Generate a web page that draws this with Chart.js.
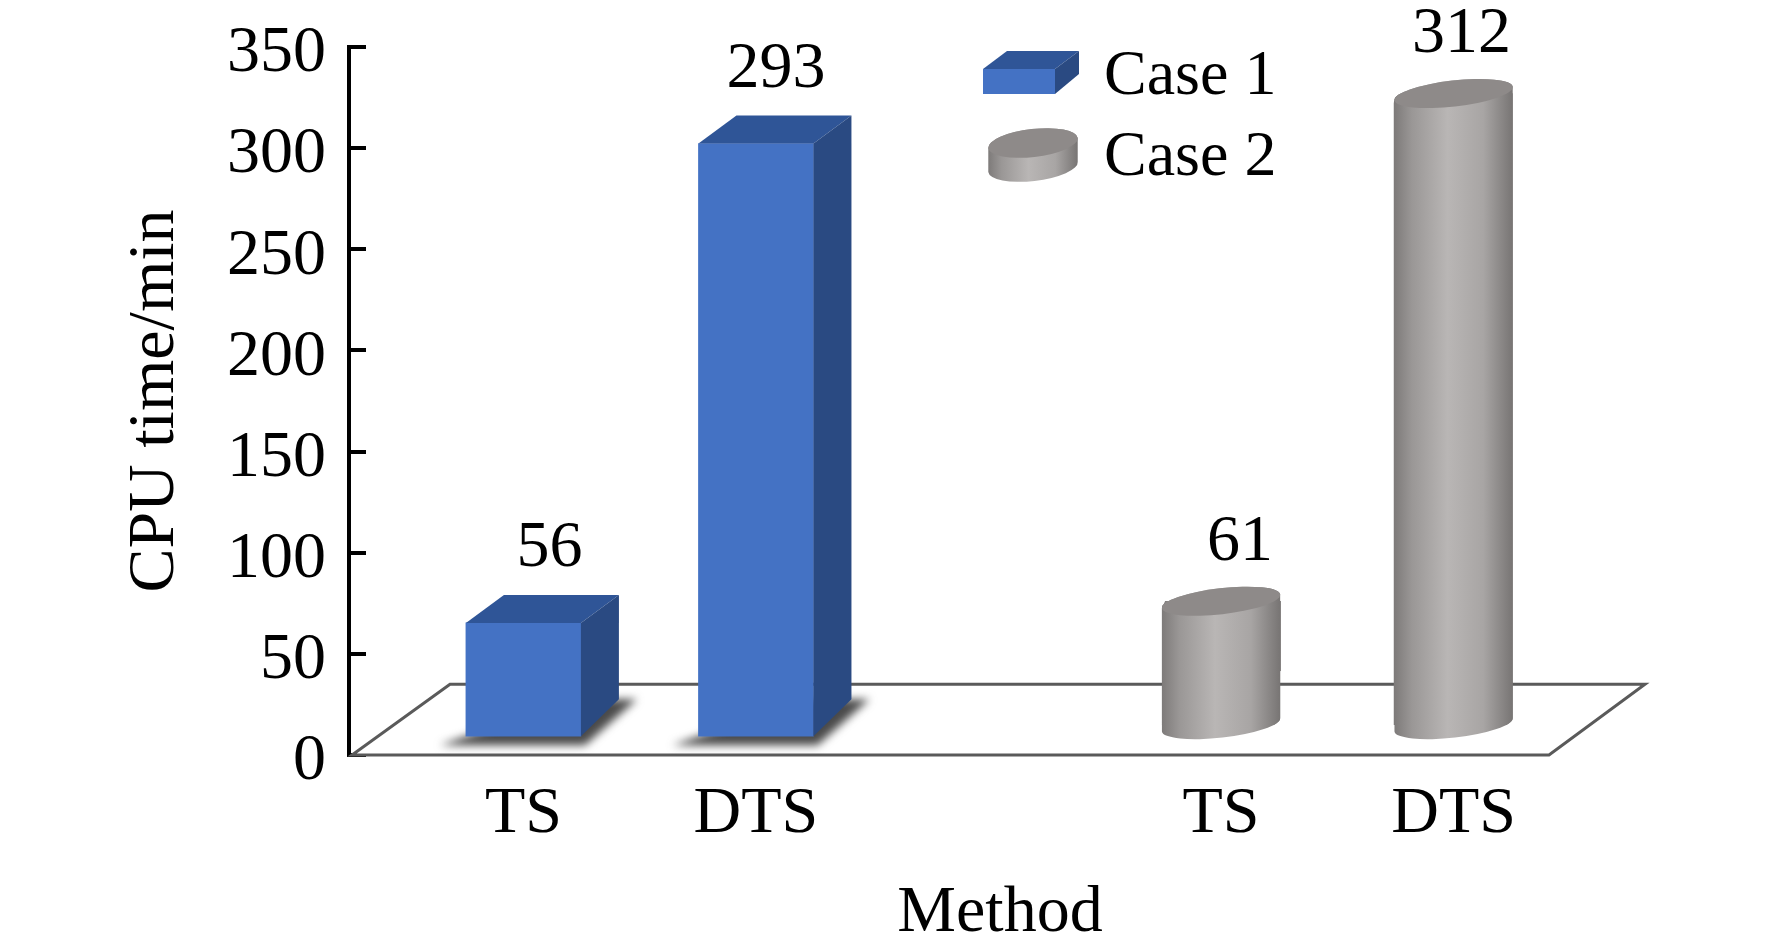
<!DOCTYPE html>
<html>
<head>
<meta charset="utf-8">
<title>CPU time</title>
<script src="https://cdn.jsdelivr.net/npm/chart.js@4"></script>
<style>
  html, body { margin: 0; padding: 0; background: #fff; }
  canvas { display: block; }
</style>
</head>
<body>
<canvas id="cpuChart" width="1772" height="952"></canvas>
<script>
// blank slots only space the two groups out along the axis
var categories = ['', 'TS', '', 'DTS', '', '', '', 'TS', '', 'DTS', ''];
var case1Values = [null, 56, null, 293, null, null, null, null, null, null, null];
var case2Values = [null, null, null, null, null, null, null, 61, null, 312, null];
var seriesNames = ['Case 1', 'Case 2'];
var yMax = 350;
var yStep = 50;

var FONT = '"Liberation Serif", "Times New Roman", serif';
var FONT_SIZE = 66;
var BLUE = '#4472c4', BLUE_TOP = '#2f5597', BLUE_SIDE = '#2a4a82', CYL_TOP = '#8e8a89';

function cylGradient(ctx, cx, rx) {
    var g = ctx.createLinearGradient(cx - rx, 0, cx + rx, 0);
    g.addColorStop(0, '#7d7a79');
    g.addColorStop(0.15, '#9a9796');
    g.addColorStop(0.45, '#b9b6b5');
    g.addColorStop(0.75, '#a8a5a4');
    g.addColorStop(1, '#777473');
    return g;
}

// outline of a tilted cylinder between two centre heights
function cylPath(ctx, cx, yTop, yBottom, rx, ry) {
    var tilt = -6.5 * Math.PI / 180;
    ctx.beginPath();
    ctx.ellipse(cx, yTop, rx, ry, tilt, Math.PI, 2 * Math.PI);
    ctx.ellipse(cx, yBottom, rx, ry, tilt, 0, Math.PI);
    ctx.closePath();
}

function cylTop(ctx, cx, y, rx, ry) {
    ctx.fillStyle = CYL_TOP;
    ctx.beginPath();
    ctx.ellipse(cx, y, rx, ry, -6.5 * Math.PI / 180, 0, 2 * Math.PI);
    ctx.fill();
}

function boxFaces(ctx, left, right, top, bottom, dx, dy, dyBottom) {
    ctx.fillStyle = BLUE_TOP;
    ctx.beginPath();
    ctx.moveTo(left, top);
    ctx.lineTo(left + dx, top - dy);
    ctx.lineTo(right + dx, top - dy);
    ctx.lineTo(right, top);
    ctx.closePath();
    ctx.fill();
    ctx.fillStyle = BLUE_SIDE;
    ctx.beginPath();
    ctx.moveTo(right, top);
    ctx.lineTo(right + dx, top - dy);
    ctx.lineTo(right + dx, bottom - dyBottom);
    ctx.lineTo(right, bottom);
    ctx.closePath();
    ctx.fill();
}

// bars that hold a value, the blank slots are skipped
function points(chart, i) {
    var values = chart.data.datasets[i].data;
    return chart.getDatasetMeta(i).data.filter(function (el, idx) {
        return values[idx] !== null;
    });
}

function rawValues(chart, i) {
    return chart.data.datasets[i].data.filter(function (v) { return v !== null; });
}

var scene = {
    id: 'scene',
    beforeDatasetsDraw: function (chart) {
        var ctx = chart.ctx, y = chart.scales.y;
        var front = y.getPixelForValue(0), back = y.getPixelForValue(35);
        var left = chart.chartArea.left;

        // floor
        ctx.save();
        ctx.fillStyle = '#fff';
        ctx.strokeStyle = '#5a5a5a';
        ctx.lineWidth = 3;
        ctx.beginPath();
        ctx.moveTo(left + 3, front);
        ctx.lineTo(left + 1200, front);
        ctx.lineTo(left + 1296, back);
        ctx.lineTo(left + 101, back);
        ctx.closePath();
        ctx.fill();
        ctx.stroke();

        // soft shadows under the boxes
        ctx.fillStyle = '#4a4a4a';
        ctx.filter = 'blur(4px)';
        points(chart, 0).forEach(function (el) {
            var l = el.x - el.width / 2, r = el.x + el.width / 2, b = el.base;
            ctx.beginPath();
            ctx.moveTo(l - 26, b + 9);
            ctx.lineTo(r + 4, b + 9);
            ctx.lineTo(r + 56, b - 37);
            ctx.lineTo(r, b - 37);
            ctx.lineTo(l, b);
            ctx.closePath();
            ctx.fill();
        });
        ctx.filter = 'none';

        // cylinder bodies, the bars are painted over them
        points(chart, 1).forEach(function (el) {
            var rx = el.width / 2;
            ctx.fillStyle = cylGradient(ctx, el.x, rx);
            cylPath(ctx, el.x, el.y, el.base, rx, 13);
            ctx.fill();
        });
        ctx.restore();
    },
    beforeDatasetDraw: function (chart, args) {
        if (args.index !== 1) return;
        var ctx = chart.ctx;
        ctx.save();
        ctx.beginPath();
        points(chart, 1).forEach(function (el) {
            var tilt = -6.5 * Math.PI / 180, rx = el.width / 2;
            ctx.ellipse(el.x, el.y, rx, 13, tilt, Math.PI, 2 * Math.PI);
            ctx.ellipse(el.x, el.base, rx, 13, tilt, 0, Math.PI);
            ctx.closePath();
        });
        ctx.clip();
    },
    afterDatasetDraw: function (chart, args) {
        if (args.index === 1) chart.ctx.restore();
    },
    afterDatasetsDraw: function (chart) {
        var ctx = chart.ctx;
        ctx.save();
        points(chart, 0).forEach(function (el) {
            boxFaces(ctx, el.x - el.width / 2, el.x + el.width / 2, el.y, el.base, 38, 28, 37);
        });
        points(chart, 1).forEach(function (el) {
            cylTop(ctx, el.x, el.y, el.width / 2, 13);
        });

        // value labels
        ctx.fillStyle = '#000';
        ctx.font = FONT_SIZE + 'px ' + FONT;
        ctx.textAlign = 'center';
        ctx.textBaseline = 'middle';
        var raw0 = rawValues(chart, 0), raw1 = rawValues(chart, 1);
        var shift0 = [26, 20], shift1 = [19, 8];
        points(chart, 0).forEach(function (el, i) {
            ctx.fillText(String(raw0[i]), el.x + shift0[i], el.y - 74);
        });
        points(chart, 1).forEach(function (el, i) {
            ctx.fillText(String(raw1[i]), el.x + shift1[i], el.y - 59);
        });

        // x axis title sits right of the plot centre in the original
        ctx.fillText(chart.options.scales.x.title.text, 1000, 914);

        // legend
        var a = chart.chartArea.left + 634, t = chart.scales.y.getPixelForValue(yMax);
        ctx.fillStyle = BLUE;
        ctx.fillRect(a, t + 22, 72, 25);
        boxFaces(ctx, a, a + 72, t + 22, t + 47, 24, 18, 20);
        ctx.fillStyle = cylGradient(ctx, a + 50, 45);
        cylPath(ctx, a + 50, t + 96, t + 120, 45, 14);
        ctx.fill();
        cylTop(ctx, a + 50, t + 96, 45, 14);
        ctx.fillStyle = '#000';
        ctx.font = '64px ' + FONT;
        ctx.textAlign = 'left';
        ctx.fillText(chart.data.datasets[0].label, 1104, 77);
        ctx.fillText(chart.data.datasets[1].label, 1104, 158);
        ctx.restore();
    }
};

var ctx = document.getElementById('cpuChart').getContext('2d');
var cpuChart = new Chart(ctx, {
    type: 'bar',
    data: {
        labels: categories,
        datasets: [{
            label: seriesNames[0],
            data: case1Values,
            yAxisID: 'yBox',
            backgroundColor: BLUE,
            barThickness: 115,
            grouped: false
        }, {
            label: seriesNames[1],
            data: case2Values,
            yAxisID: 'yCyl',
            backgroundColor: function (c) {
                var xs = c.chart.scales.x;
                if (!xs || !c.chart.chartArea) return '#a8a5a4';
                return cylGradient(c.chart.ctx, xs.getPixelForValue(c.dataIndex), 59.5);
            },
            barThickness: 119,
            grouped: false
        }]
    },
    options: {
        responsive: false,
        animation: false,
        devicePixelRatio: 1,
        layout: { padding: { left: 116, top: 47, right: 144, bottom: 0 } },
        plugins: {
            legend: { display: false },
            title: { display: false },
            tooltip: { enabled: false }
        },
        scales: {
            x: {
                grid: { display: false, drawTicks: false },
                border: { display: false },
                ticks: {
                    color: '#000',
                    font: { family: FONT, size: FONT_SIZE },
                    padding: 20,
                    autoSkip: false,
                    maxRotation: 0
                },
                title: { display: false, text: 'Method' },
                afterFit: function (s) { s.height = 197; }
            },
            y: {
                min: 0,
                max: yMax,
                position: 'left',
                grid: {
                    drawOnChartArea: false,
                    color: '#000',
                    lineWidth: 4,
                    tickLength: -17
                },
                border: { color: '#000', width: 4 },
                ticks: {
                    stepSize: yStep,
                    color: '#000',
                    font: { family: FONT, size: FONT_SIZE },
                    padding: 40,
                    labelOffset: 7
                },
                title: {
                    display: true,
                    text: 'CPU time/min',
                    color: '#000',
                    font: { family: FONT, size: FONT_SIZE },
                    padding: 0
                },
                // fixed gutter, and no room reserved for half a tick label
                afterFit: function (s) {
                    s.width = 233;
                    s.paddingTop = 0;
                    s.paddingBottom = 0;
                }
            },
            // the 3D marks stand on the floor, a little above the axis zero
            yBox: { display: false, min: -9.3, max: yMax - 9.3 },
            yCyl: { display: false, min: -15, max: yMax - 15 }
        }
    },
    plugins: [scene]
});
</script>
</body>
</html>
